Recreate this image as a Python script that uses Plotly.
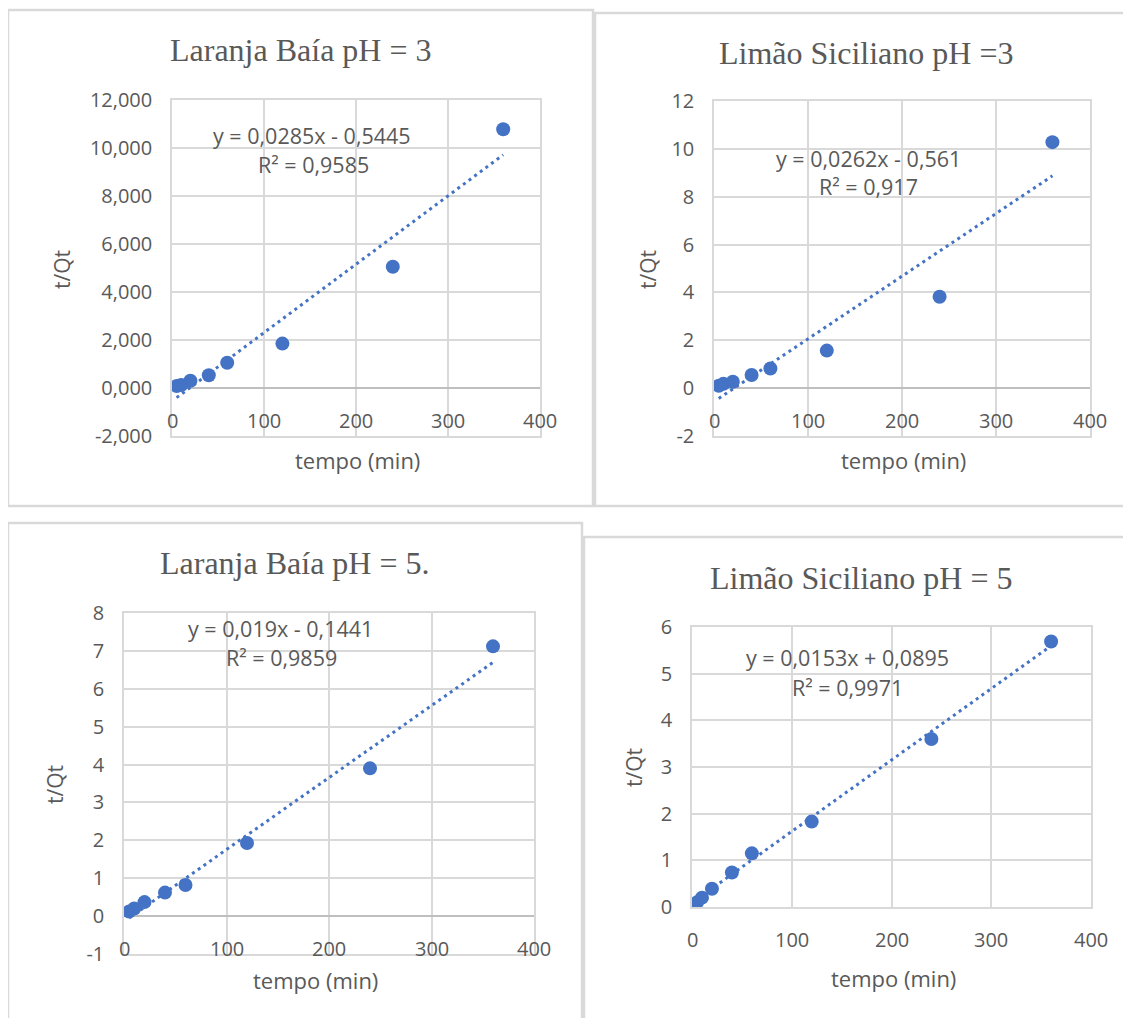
import plotly.graph_objects as go

# page is offset by the browser's default 8px body margin
PAGE_W, PAGE_H, OFF = 1131, 1018, 8
W, H = PAGE_W - OFF, PAGE_H - OFF

# ---------------- data ----------------
tempo = [5, 10, 20, 40, 60, 120, 240, 360]

titles = ["Laranja Baía pH = 3", "Limão Siciliano pH =3",
          "Laranja Baía pH = 5.", "Limão Siciliano pH = 5"]

y_lar3 = [0.08, 0.12, 0.30, 0.53, 1.05, 1.85, 5.05, 10.78]
y_lim3 = [0.10, 0.18, 0.27, 0.55, 0.82, 1.57, 3.82, 10.28]
y_lar5 = [0.12, 0.20, 0.37, 0.62, 0.82, 1.93, 3.90, 7.12]
y_lim5 = [0.10, 0.20, 0.39, 0.74, 1.15, 1.83, 3.60, 5.69]

slopes = [0.0285, 0.0262, 0.019, 0.0153]
intercepts = [-0.5445, -0.561, -0.1441, 0.0895]
equations = ["y = 0,0285x - 0,5445", "y = 0,0262x - 0,561",
             "y = 0,019x - 0,1441", "y = 0,0153x + 0,0895"]
r2_labels = ["R² = 0,9585", "R² = 0,917", "R² = 0,9859", "R² = 0,9971"]

x_ticks = [0, 100, 200, 300, 400]
x_ticktext = ["0", "100", "200", "300", "400"]

y_ticks_1 = [-2, 0, 2, 4, 6, 8, 10, 12]
y_ticktext_1 = ["-2,000", "0,000", "2,000", "4,000", "6,000", "8,000", "10,000", "12,000"]
y_ticks_2 = [-2, 0, 2, 4, 6, 8, 10, 12]
y_ticktext_2 = ["-2", "0", "2", "4", "6", "8", "10", "12"]
y_ticks_3 = [-1, 0, 1, 2, 3, 4, 5, 6, 7, 8]
y_ticktext_3 = ["-1", "0", "1", "2", "3", "4", "5", "6", "7", "8"]
y_ticks_4 = [0, 1, 2, 3, 4, 5, 6]
y_ticktext_4 = ["0", "1", "2", "3", "4", "5", "6"]

x_label = "tempo (min)"
y_label = "t/Qt"

# ---------------- layout helpers (reference pixel -> paper) ----------------
def fx(p):
    return (p - OFF) / W

def fy(p):
    return 1 - (p - OFF) / H

BLUE = "#4472C4"
GRAY_TXT = "#595959"
GRID = "#D9D9D9"
SANS = "Open Sans"
SERIF = "Liberation Serif"

series = [y_lar3, y_lim3, y_lar5, y_lim5]
yticks = [(y_ticks_1, y_ticktext_1), (y_ticks_2, y_ticktext_2),
          (y_ticks_3, y_ticktext_3), (y_ticks_4, y_ticktext_4)]

# plot-area pixel boxes (left, right, top, bottom)
plot_boxes = [(172, 540, 100, 436), (714, 1090, 101, 436),
              (124, 534, 613, 954), (692, 1091, 627, 907)]
# panel borders (x0, y0, x1, y1)
panel_boxes = [(8, 10, 593, 506), (595, 13, 1140, 506),
               (8, 523, 582, 1030), (584, 537, 1140, 1030)]
title_pos = [(301, 50), (866, 53), (295, 563), (861, 578)]
ylab_pos = [(62, 270), (648, 270), (55, 785), (634, 768)]
xlab_pos = [(357, 460), (903, 460), (315, 980), (893, 978)]
eq_pos = [(312, 135), (868, 158), (280, 628), (847, 657)]
r2_pos = [(313, 164), (868, 187), (281, 657), (847, 687)]

fig = go.Figure()
shapes = []
annotations = []
layout_axes = {}

for i in range(4):
    n = "" if i == 0 else str(i + 1)
    xa, ya = "x" + n, "y" + n
    L, R, T, B = plot_boxes[i]
    tv, tt = yticks[i]

    # trendline from the equation coefficients shown on the chart
    xs = [min(tempo), max(tempo)]
    ys = [slopes[i] * v + intercepts[i] for v in xs]
    fig.add_trace(go.Scatter(x=xs, y=ys, mode="lines", xaxis=xa, yaxis=ya,
                             line=dict(color=BLUE, width=3, dash="3px,4px"),
                             hoverinfo="skip", showlegend=False))
    fig.add_trace(go.Scatter(x=tempo, y=series[i], mode="markers", xaxis=xa, yaxis=ya,
                             marker=dict(color=BLUE, size=14), showlegend=False))

    layout_axes["xaxis" + n] = dict(
        domain=[fx(L), fx(R)], range=[0, 400], anchor=ya, automargin=False,
        tickvals=x_ticks, showticklabels=False, ticks="",
        showgrid=True, gridcolor=GRID, gridwidth=1.5,
        zeroline=False, showline=True, mirror=True, linecolor=GRID, linewidth=1.5,
    )
    layout_axes["yaxis" + n] = dict(
        domain=[fy(B), fy(T)], range=[tv[0], tv[-1]], anchor=xa, automargin=False,
        tickvals=tv, ticktext=tt, ticks="", ticklabelstandoff=14,
        tickfont=dict(family=SANS, size=20, color=GRAY_TXT),
        showgrid=True, gridcolor=GRID, gridwidth=1.5,
        zeroline=True, zerolinecolor="#BFBFBF", zerolinewidth=1.5,
        showline=True, mirror=True, linecolor=GRID, linewidth=1.5,
    )

    # x tick labels next to the horizontal axis (y = 0)
    for v, t in zip(x_ticks, x_ticktext):
        annotations.append(dict(x=v, y=0, xref=xa, yref=ya, text=t, showarrow=False,
                                yshift=-32, yanchor="middle", xanchor="center",
                                font=dict(family=SANS, size=20, color=GRAY_TXT)))

    x0, y0, x1, y1 = panel_boxes[i]
    shapes.append(dict(type="rect", xref="paper", yref="paper",
                       x0=fx(x0), x1=fx(x1), y0=fy(y1), y1=fy(y0),
                       line=dict(color=GRID, width=2.5), fillcolor="rgba(0,0,0,0)",
                       layer="below"))

    annotations.append(dict(x=fx(title_pos[i][0]), y=fy(title_pos[i][1]), xref="paper", yref="paper",
                            text=titles[i], showarrow=False, xanchor="center", yanchor="middle",
                            font=dict(family=SERIF, size=32, color=GRAY_TXT)))
    annotations.append(dict(x=fx(ylab_pos[i][0]), y=fy(ylab_pos[i][1]), xref="paper", yref="paper",
                            text=y_label, showarrow=False, textangle=-90,
                            xanchor="center", yanchor="middle",
                            font=dict(family=SANS, size=21, color=GRAY_TXT)))
    annotations.append(dict(x=fx(xlab_pos[i][0]), y=fy(xlab_pos[i][1]), xref="paper", yref="paper",
                            text=x_label, showarrow=False, xanchor="center", yanchor="middle",
                            font=dict(family=SANS, size=22, color=GRAY_TXT)))
    annotations.append(dict(x=fx(eq_pos[i][0]), y=fy(eq_pos[i][1]), xref="paper", yref="paper",
                            text=equations[i], showarrow=False, xanchor="center", yanchor="middle",
                            font=dict(family=SANS, size=21.5, color=GRAY_TXT)))
    annotations.append(dict(x=fx(r2_pos[i][0]), y=fy(r2_pos[i][1]), xref="paper", yref="paper",
                            text=r2_labels[i], showarrow=False, xanchor="center", yanchor="middle",
                            font=dict(family=SANS, size=21.5, color=GRAY_TXT)))

fig.update_layout(
    width=W, height=H, margin=dict(l=0, r=0, t=0, b=0, autoexpand=False),
    paper_bgcolor="white", plot_bgcolor="white",
    showlegend=False, shapes=shapes, annotations=annotations,
    **layout_axes,
)

fig.write_html("out.html", config={"displayModeBar": False})
